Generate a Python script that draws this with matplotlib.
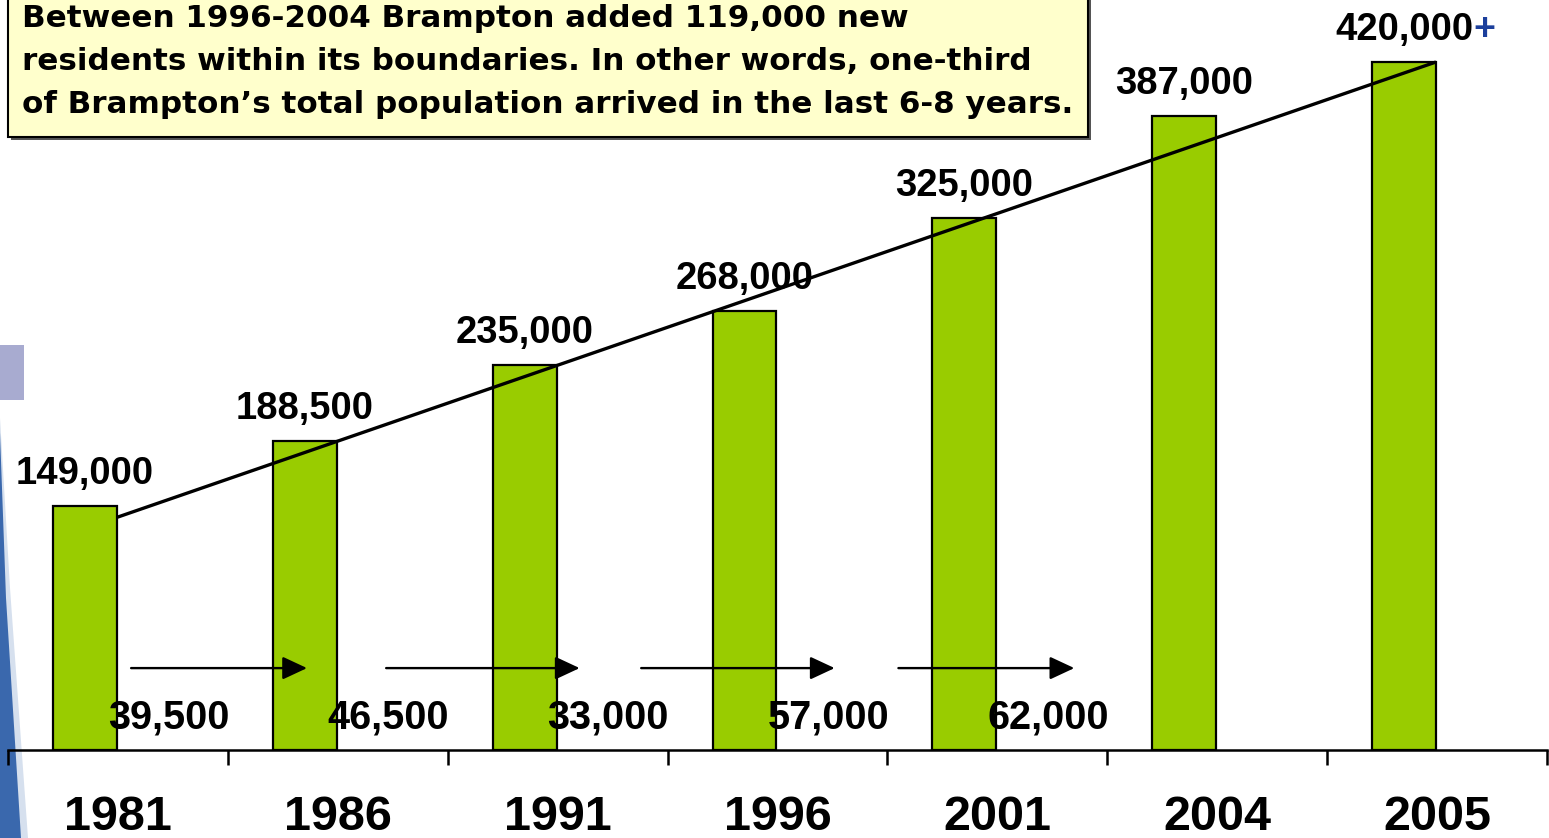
import numpy as np
import matplotlib
matplotlib.use('Agg')
import matplotlib.pyplot as plt
from matplotlib.patches import Rectangle, Polygon

plt.rcParams['font.family'] = ['Liberation Sans', 'DejaVu Sans']

# data
years = ['1981', '1986', '1991', '1996', '2001', '2004', '2005']
population = [149000, 188500, 235000, 268000, 325000, 387000, 420000]
pop_labels = ['149,000', '188,500', '235,000', '268,000', '325,000', '387,000', '420,000']
growth = ['39,500', '46,500', '33,000', '57,000', '62,000']
trend_start = 142000
note = ['Between 1996-2004 Brampton added 119,000 new',
        'residents within its boundaries. In other words, one-third',
        'of Brampton\u2019s total population arrived in the last 6-8 years.']

W, H = 1549, 838
fig = plt.figure(figsize=(W / 100, H / 100), dpi=100)
fig.patch.set_facecolor('white')

# left edge decoration (fragment of slide background)
fig.patches.append(Polygon([(0, 0), (28 / W, 0), (10 / W, 250 / H), (0, 420 / H)],
                           closed=True, transform=fig.transFigure,
                           facecolor='#d6e0ee', edgecolor='none', zorder=-2))
fig.patches.append(Polygon([(0, 0), (21 / W, 0), (6 / W, 240 / H), (0, 405 / H)],
                           closed=True, transform=fig.transFigure,
                           facecolor='#3a68ad', edgecolor='none', zorder=-2))
fig.patches.append(Rectangle((0, 438 / H), 24 / W, 55 / H, transform=fig.transFigure,
                             facecolor='#a8abd0', edgecolor='none', zorder=-2))

ax = fig.add_axes([8 / W, 88 / H, 1539 / W, 750 / H])
ax.set_facecolor('none')
x = np.arange(len(years))
ymax = 420000 * 750 / 688
ax.set_xlim(-0.5, 6.5)
ax.set_ylim(0, ymax)

ax.bar(x - 0.15, population, width=0.29, color='#99cc00',
       edgecolor='black', linewidth=1.6, zorder=2)

# trend line from the first bar to the top of the last one
ax.plot([x[0] - 0.005, x[-1] - 0.005], [trend_start, population[-1]],
        color='black', lw=2.4, zorder=4, solid_capstyle='butt')

# value labels
for i, (v, s) in enumerate(zip(population, pop_labels)):
    t = ax.text(x[i] - 0.15, v + 13400, s, ha='center', va='baseline',
                fontsize=27.5, fontweight='bold', zorder=5)
    if i == len(population) - 1:
        ax.annotate('+', xy=(1, 0), xycoords=t, ha='left', va='bottom',
                    fontsize=27, fontweight='bold', color='#1c3f9c', zorder=5)

# growth arrows between census years
arrow_y = 50000
arrow_x = [(0.06, 0.86), (1.22, 2.10), (2.38, 3.26), (3.55, 4.35)]
for a, b in arrow_x:
    ax.annotate('', xy=(b, arrow_y), xytext=(a, arrow_y),
                arrowprops=dict(arrowstyle='-|>,head_length=1.5,head_width=0.7',
                                color='black', lw=1.7, shrinkA=0, shrinkB=0),
                zorder=5)
for i, g in enumerate(growth):
    ax.text(i + 0.23, 13400, g, ha='center', va='baseline',
            fontsize=28.5, fontweight='bold', zorder=6)

# axis styling
for s in ['left', 'right', 'top']:
    ax.spines[s].set_visible(False)
ax.spines['bottom'].set_linewidth(1.8)
ax.set_yticks([])
ax.set_xticks(np.arange(-0.5, 7, 1))
ax.set_xticklabels([])
ax.tick_params(axis='x', direction='out', length=11, width=1.8)
for i, yr in enumerate(years):
    ax.text(x[i], -0.107, yr, transform=ax.get_xaxis_transform(),
            ha='center', va='baseline', fontsize=35, fontweight='bold')

# note box
fig.patches.append(Rectangle((11 / W, (H - 140) / H), 1080 / W, 160 / H,
                             transform=fig.transFigure, facecolor='#555555',
                             edgecolor='none', zorder=6))
fig.patches.append(Rectangle((8 / W, (H - 137) / H), 1080 / W, 160 / H,
                             transform=fig.transFigure, facecolor='#ffffcc',
                             edgecolor='black', linewidth=1.5, zorder=7))
for k, line in enumerate(note):
    fig.text(22 / W, (H - 27 - 43 * k) / H, line, ha='left', va='baseline',
             fontsize=22.3, fontweight='bold', family=['DejaVu Sans'], zorder=8)

fig.savefig('out.png', dpi=100)
